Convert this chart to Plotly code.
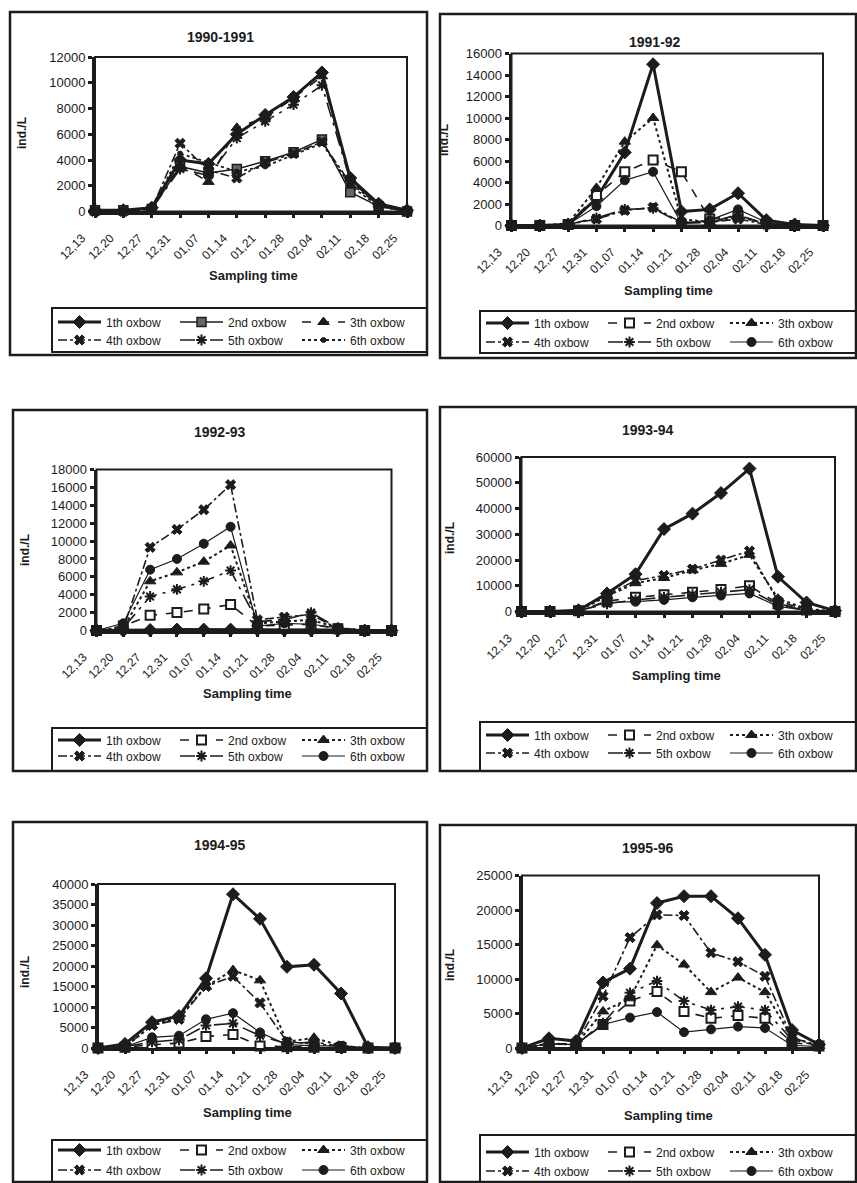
import plotly.graph_objects as go

W, H = 857, 1183

# ---------------- data ----------------
dates = ["12,13", "12,20", "12,27", "12,31", "01,07", "01,14",
         "01,21", "01,28", "02,04", "02,11", "02,18", "02,25"]
series_names = ["1th oxbow", "2nd oxbow", "3th oxbow",
                "4th oxbow", "5th oxbow", "6th oxbow"]
panel_titles = ["1990-1991", "1991-92", "1992-93", "1993-94", "1994-95", "1995-96"]
y_max = [12000, 16000, 18000, 60000, 40000, 25000]
y_step = [2000, 2000, 2000, 10000, 5000, 5000]

# 1990-1991
p1_ox1 = [100, 100, 300, 4000, 3700, 6000, 7500, 8900, 10800, 2600, 600, 100]
p1_ox2 = [100, 100, 200, 3500, 3000, 3300, 3900, 4600, 5600, 1500, 400, 0]
p1_ox3 = [0, 0, 200, 3600, 2300, 6500, 7300, 8800, 10500, 2500, 600, 100]
p1_ox4 = [0, 0, 200, 5300, 3200, 2600, 3800, 4500, 5400, 2200, 500, 0]
p1_ox5 = [0, 0, 200, 3300, 2800, 5700, 7000, 8300, 9800, 2400, 500, 100]
p1_ox6 = [0, 0, 200, 4500, 3800, 3100, 3500, 4400, 5300, 2000, 400, 0]
# 1991-92
p2_ox1 = [0, 0, 100, 2500, 6800, 15000, 1300, 1500, 3000, 500, 100, 0]
p2_ox2 = [0, 0, 100, 2800, 5000, 6100, 5000, 600, 900, 200, 0, 0]
p2_ox3 = [0, 0, 200, 3500, 7800, 10000, 600, 300, 800, 200, 0, 0]
p2_ox4 = [0, 0, 100, 600, 1400, 1700, 300, 300, 600, 100, 0, 0]
p2_ox5 = [0, 0, 100, 700, 1500, 1600, 200, 300, 1000, 100, 0, 0]
p2_ox6 = [0, 0, 100, 1800, 4200, 5000, 200, 500, 1500, 300, 0, 0]
# 1992-93
p3_ox1 = [0, 0, 50, 100, 100, 100, 100, 50, 50, 50, 0, 0]
p3_ox2 = [0, 500, 1700, 2000, 2400, 2900, 500, 600, 700, 200, 0, 0]
p3_ox3 = [0, 300, 5500, 6500, 7700, 9500, 800, 1000, 1200, 300, 0, 0]
p3_ox4 = [0, 200, 9300, 11300, 13500, 16300, 1200, 1500, 1800, 200, 0, 0]
p3_ox5 = [0, 300, 3800, 4600, 5500, 6700, 1000, 1200, 2000, 300, 0, 0]
p3_ox6 = [0, 800, 6800, 8000, 9700, 11600, 500, 800, 700, 300, 0, 0]
# 1993-94
p4_ox1 = [0, 0, 500, 7000, 14500, 32000, 38000, 46000, 55500, 13500, 3500, 300]
p4_ox2 = [0, 0, 300, 4000, 5500, 6500, 7500, 8500, 10000, 3000, 600, 0]
p4_ox3 = [0, 0, 300, 6000, 11000, 13000, 16000, 18500, 22000, 5000, 1000, 0]
p4_ox4 = [0, 0, 300, 6500, 12000, 14000, 16500, 20000, 23500, 4000, 800, 0]
p4_ox5 = [0, 0, 300, 3000, 4500, 5500, 6500, 7500, 8500, 2500, 500, 0]
p4_ox6 = [0, 0, 300, 3500, 3800, 4500, 5500, 6200, 7000, 2000, 400, 0]
# 1994-95
p5_ox1 = [0, 1000, 6300, 7800, 17000, 37500, 31500, 19800, 20300, 13300, 200, 0]
p5_ox2 = [0, 200, 800, 1200, 2800, 3300, 500, 300, 200, 100, 0, 0]
p5_ox3 = [0, 300, 5500, 7500, 15000, 19000, 16500, 1500, 2500, 500, 0, 0]
p5_ox4 = [0, 300, 5500, 7000, 15000, 17500, 11000, 1500, 1000, 500, 0, 0]
p5_ox5 = [0, 300, 1500, 2000, 5500, 6000, 3000, 1000, 1500, 300, 0, 0]
p5_ox6 = [0, 300, 2600, 3000, 7000, 8500, 3800, 800, 500, 500, 0, 0]
# 1995-96
p6_ox1 = [0, 1400, 1000, 9500, 11500, 21000, 22000, 22000, 18800, 13500, 2600, 500]
p6_ox2 = [0, 700, 500, 3400, 6800, 8200, 5300, 4300, 4700, 4300, 800, 300]
p6_ox3 = [0, 600, 500, 5300, 7200, 14900, 12100, 8100, 10200, 8100, 1500, 300]
p6_ox4 = [0, 600, 500, 7500, 16000, 19300, 19200, 13800, 12500, 10400, 1500, 300]
p6_ox5 = [0, 600, 500, 3600, 8000, 9700, 6800, 5500, 6000, 5500, 1200, 300]
p6_ox6 = [0, 600, 500, 3400, 4400, 5200, 2300, 2700, 3100, 2900, 400, 200]

panels = [
    [p1_ox1, p1_ox2, p1_ox3, p1_ox4, p1_ox5, p1_ox6],
    [p2_ox1, p2_ox2, p2_ox3, p2_ox4, p2_ox5, p2_ox6],
    [p3_ox1, p3_ox2, p3_ox3, p3_ox4, p3_ox5, p3_ox6],
    [p4_ox1, p4_ox2, p4_ox3, p4_ox4, p4_ox5, p4_ox6],
    [p5_ox1, p5_ox2, p5_ox3, p5_ox4, p5_ox5, p5_ox6],
    [p6_ox1, p6_ox2, p6_ox3, p6_ox4, p6_ox5, p6_ox6],
]

# ---------------- geometry (pixels) ----------------
# plot area: left, right, top, bottom
plot_px = [(95, 407, 57, 211.5), (511.5, 823, 53.5, 225.5),
           (96.5, 391.5, 469.5, 630.5), (521.5, 835, 457, 611.5),
           (98, 395, 884, 1048), (522, 819, 875.5, 1048)]
# chart border: left, right, top, bottom
box_px = [(10, 427, 12, 355), (440, 856, 14, 358),
          (13, 427, 410, 771), (440, 856, 407, 771),
          (13, 427, 822, 1182), (440, 856, 825, 1182)]
# legend box: left, right, top, bottom, row1 y, row2 y
leg_px = [(52, 427, 308, 352, 322, 340), (480, 856, 311, 353, 323, 342),
          (52, 427, 728, 771, 740, 756), (480, 856, 722, 771, 735, 753),
          (52, 427, 1140, 1182, 1150, 1170), (480, 856, 1135, 1182, 1152, 1171)]
title_px = [(220, 37), (655, 42), (220, 432), (648, 430), (220, 845), (648, 848)]
ytitle_px = [(22, 133), (444, 140), (25, 550), (450, 538), (25, 972), (450, 965)]
xtitle_px = [(253, 275), (668, 290), (247, 693), (676, 675), (247, 1112), (668, 1115)]

INK = "#1c1c1c"
FONT = "Liberation Sans, Arial, sans-serif"

# styles: (dash, width, symbol, size, fill, marker line width)
style_first = [
    ("solid", 3, "diamond", 10, INK, 1),
    ("solid", 1.5, "square", 9, "#666666", 1.5),
    ("dash", 1.6, "triangle-up", 10, INK, 1),
    ("dashdot", 1.6, "x", 9, INK, 1),
    ("longdashdot", 1.6, "asterisk-open", 9, INK, 2),
    ("dot", 1.8, "circle", 5, INK, 1),
]
style_other = [
    ("solid", 3, "diamond", 10, INK, 1),
    ("dash", 1.6, "square", 9, "white", 2),
    ("dot", 2, "triangle-up", 10, INK, 1),
    ("dashdot", 1.6, "x", 9, INK, 1),
    ("longdashdot", 1.6, "asterisk-open", 9, INK, 2),
    ("solid", 1.2, "circle", 9, INK, 1),
]


def fx(p):
    return p / W


def fy(p):
    return 1 - p / H


fig = go.Figure()
shapes = []
annotations = []
layout = dict(
    width=W, height=H, margin=dict(l=0, r=0, t=0, b=0, autoexpand=False),
    paper_bgcolor="white", plot_bgcolor="white",
    font=dict(family=FONT, color=INK, size=12),
)

for i in range(6):
    ax = "" if i == 0 else str(i + 1)
    xa, ya = "x" + ax, "y" + ax
    styles = style_first if i == 0 else style_other
    for s in range(6):
        dash, lw, sym, msz, fill, mlw = styles[s]
        k = 2 * i + (0 if s < 3 else 1) + 1
        legname = "legend" if k == 1 else f"legend{k}"
        fig.add_trace(go.Scatter(
            x=dates, y=panels[i][s], name=series_names[s], mode="lines+markers",
            xaxis=xa, yaxis=ya, legend=legname, cliponaxis=False,
            line=dict(color=INK, width=lw, dash=dash),
            marker=dict(symbol=sym, size=msz, color=fill,
                        line=dict(color=INK, width=mlw)),
            showlegend=True,
        ))
    l, r, t, b = plot_px[i]
    layout["xaxis" + ax] = dict(
        domain=[fx(l), fx(r)], anchor=ya, type="category",
        range=[0, len(dates) - 1], tickangle=-45, automargin=False,
        showline=True, linecolor=INK, linewidth=3,
        ticks="outside", ticklen=3, tickwidth=3, tickcolor=INK,
        ticklabelstandoff=9, ticklabelshift=-13,
        tickfont=dict(size=12, color=INK), showgrid=False, fixedrange=True,
    )
    layout["yaxis" + ax] = dict(
        domain=[fy(b), fy(t)], anchor=xa, range=[0, y_max[i]], dtick=y_step[i],
        tick0=0, tickformat="d", automargin=False,
        showline=True, linecolor=INK, linewidth=3,
        ticks="outside", ticklen=4, tickwidth=3, tickcolor=INK,
        tickfont=dict(size=13, color=INK), showgrid=False, zeroline=False,
        fixedrange=True,
    )
    # plot-area frame
    shapes.append(dict(type="rect", xref=xa + " domain", yref=ya + " domain",
                       x0=0, x1=1, y0=0, y1=1, line=dict(color=INK, width=2),
                       layer="below"))
    # chart border
    bl, br, bt, bb = box_px[i]
    shapes.append(dict(type="rect", xref="paper", yref="paper",
                       x0=fx(bl), x1=fx(br), y0=fy(bb), y1=fy(bt),
                       line=dict(color=INK, width=2.5)))
    # legend box
    ll, lr, lt, lb, r1, r2 = leg_px[i]
    shapes.append(dict(type="rect", xref="paper", yref="paper",
                       x0=fx(ll), x1=fx(lr), y0=fy(lb), y1=fy(lt),
                       line=dict(color=INK, width=2)))
    for row, ry in enumerate((r1, r2)):
        k = 2 * i + row + 1
        legname = "legend" if k == 1 else f"legend{k}"
        layout[legname] = dict(
            orientation="h", x=fx(ll + 1), xanchor="left", y=fy(ry), yanchor="middle",
            bgcolor="rgba(0,0,0,0)", borderwidth=0,
            font=dict(size=12, color=INK, family=FONT),
            entrywidth=64, entrywidthmode="pixels", itemwidth=43,
            tracegroupgap=0, itemclick=False, itemdoubleclick=False,
        )
    # titles
    tx, ty = title_px[i]
    annotations.append(dict(text="<b>" + panel_titles[i] + "</b>", x=fx(tx), y=fy(ty),
                            xref="paper", yref="paper", showarrow=False,
                            xanchor="center", yanchor="middle",
                            font=dict(size=14, color=INK)))
    yx, yy = ytitle_px[i]
    annotations.append(dict(text="<b>ind./L</b>", x=fx(yx), y=fy(yy), textangle=-90,
                            xref="paper", yref="paper", showarrow=False,
                            xanchor="center", yanchor="middle",
                            font=dict(size=12, color=INK)))
    xx, xy = xtitle_px[i]
    annotations.append(dict(text="<b>Sampling time</b>", x=fx(xx), y=fy(xy),
                            xref="paper", yref="paper", showarrow=False,
                            xanchor="center", yanchor="middle",
                            font=dict(size=13, color=INK)))

layout["shapes"] = shapes
layout["annotations"] = annotations
fig.update_layout(**layout)
fig.write_html("out.html", config={"displayModeBar": False},
               post_script="document.body.style.margin='0';document.body.style.overflow='hidden';")
